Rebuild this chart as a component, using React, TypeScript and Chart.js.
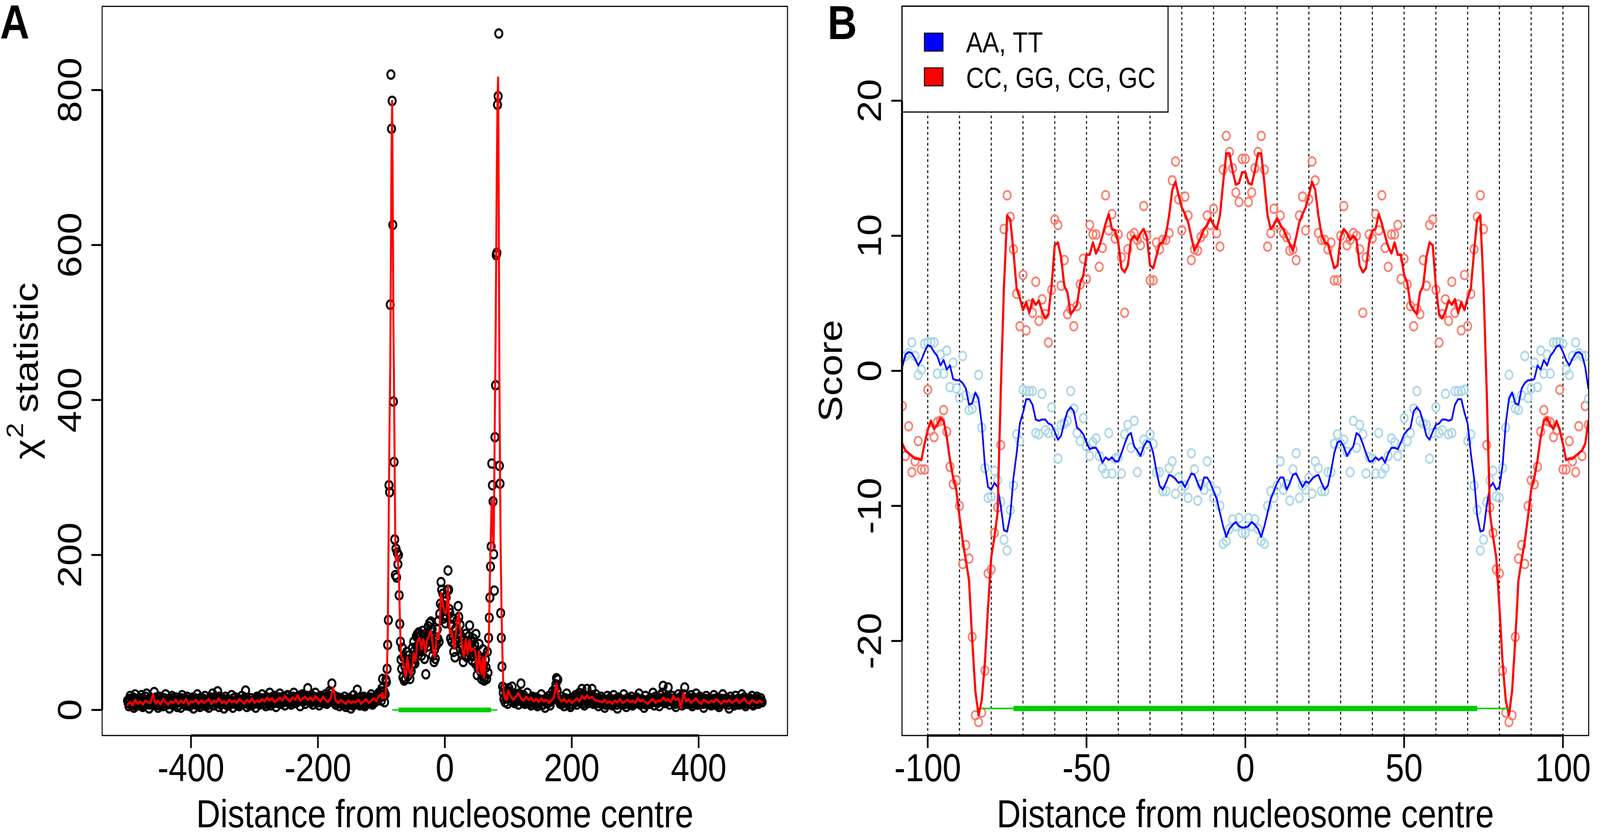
import React, { useEffect, useRef } from "react";
import { Chart, registerables } from "chart.js";

Chart.register(...registerables);

const FONT = '"Liberation Sans", Arial, Helvetica, sans-serif';
const DESIGN_W = 4793;
const DESIGN_H = 2130;

// ---------------- Panel A : chi-square statistic ----------------
const aXRange = [-540, 540];
const aYRange = [-33, 908];
const aXTicks = [-400, -200, 0, 200, 400];
const aYTicks = [0, 200, 400, 600, 800];

// observed statistic, x = -500 .. -102 (step 2)
const aPtsLeft = [
  12, 5, 18, 8, 14, 3, 20, 10, 6, 15,
  9, 19, 4, 13, 7, 21, 11, 2, 16, 8,
  14, 23, 6, 10, 3, 17, 9, 12, 5, 15,
  20, 7, 11, 2, 13, 18, 6, 9, 16, 4,
  10, 14, 3, 19, 8, 12, 6, 17, 11, 5,
  13, 9, 2, 15, 7, 20, 10, 4, 16, 8,
  11, 18, 5, 12, 3, 14, 9, 21, 6, 10,
  15, 24, 4, 13, 8, 11, 2, 17, 9, 14,
  6, 12, 19, 3, 10, 16, 7, 13, 5, 11,
  18, 8, 14, 25, 4, 12, 9, 15, 6, 11,
  13, 3, 17, 10, 7, 14, 20, 8, 12, 5,
  16, 11, 22, 6, 13, 9, 18, 4, 15, 10,
  21, 8, 14, 17, 6, 12, 19, 10, 15, 7,
  13, 22, 9, 16, 11, 18, 5, 14, 20, 12,
  8, 17, 28, 13, 10, 19, 7, 15, 22, 11,
  14, 6, 18, 12, 9, 16, 20, 8, 13, 24,
  16, 34, 10, 18, 7, 12, 16, 5, 11, 14,
  9, 17, 4, 13, 8, 15, 2, 11, 19, 7,
  12, 26, 10, 6, 14, 9, 17, 5, 13, 8,
  15, 11, 20, 7, 14, 10, 18, 13, 22, 16,
];
// observed statistic, x = -499 .. -101 (step 2)
const aPtsLeftOdd = [
  9, 14, 7, 11, 16, 6, 12, 9, 13, 8,
  15, 10, 6, 12, 17, 9, 13, 7, 11, 14,
  8, 12, 16, 9, 13, 6, 11, 15, 10, 7,
  12, 9, 14, 8, 11, 15, 7, 13, 10, 12,
  6, 11, 15, 9, 12, 7, 14, 10, 8, 13,
  11, 16, 8, 10, 13, 6, 12, 15, 9, 11,
  14, 7, 10, 13, 8, 16, 11, 6, 12, 9,
  10, 13, 17, 7, 11, 14, 9, 12, 6, 10,
  13, 9, 11, 15, 8, 12, 10, 14, 7, 11,
  9, 12, 16, 10, 13, 7, 11, 15, 12, 8,
  14, 10, 12, 16, 9, 13, 11, 15, 8, 12,
  11, 15, 9, 13, 17, 10, 12, 14, 9, 16,
  12, 16, 10, 14, 11, 18, 13, 9, 15, 12,
  17, 11, 14, 10, 16, 12, 19, 13, 11, 15,
  13, 18, 12, 15, 10, 14, 17, 11, 16, 13,
  10, 15, 12, 17, 11, 9, 14, 12, 16, 18,
  22, 13, 15, 9, 12, 14, 10, 13, 8, 12,
  11, 7, 13, 10, 15, 9, 12, 6, 11, 14,
  10, 13, 8, 12, 9, 15, 11, 7, 13, 10,
  12, 16, 9, 14, 11, 17, 13, 15, 19, 24,
];
// observed statistic, x = -100 .. 100 (step 1)
const aPtsCentre = [
  12, 28, 40, 18, 24, 10, 20, 39, 36, 53,
  84, 116, 290, 281, 523, 820, 750, 786, 626, 398,
  320, 220, 174, 208, 171, 203, 188, 200, 148, 111,
  88, 65, 53, 80, 42, 68, 38, 56, 40, 50,
  75, 62, 44, 70, 52, 40, 64, 50, 58, 80,
  60, 88, 76, 60, 72, 95, 82, 98, 75, 100,
  88, 80, 96, 70, 90, 102, 78, 95, 66, 85,
  46, 92, 100, 82, 108, 90, 112, 96, 114, 88,
  104, 70, 85, 62, 78, 66, 90, 84, 104, 92,
  115, 88, 124, 137, 165, 155, 134, 150, 118, 140,
  128,
  112, 145, 120, 155, 180, 155, 130, 125, 92, 110,
  88, 118, 95, 75, 85, 68, 105, 90, 115, 98,
  134, 120, 100, 110, 85, 95, 72, 80, 62, 75,
  90, 70, 98, 80, 68, 88, 76, 95, 109, 82,
  70, 88, 64, 80, 92, 70, 84, 60, 98, 72,
  45, 55, 70, 85, 62, 50, 66, 40, 55, 78,
  58, 38, 42, 65, 55, 40, 75, 48, 93, 119,
  145, 185, 211, 318, 290, 269, 201, 154, 352, 419,
  587, 590, 781, 792, 873, 315, 292, 125, 93, 56,
  30, 22, 14, 28, 10, 20, 15, 24, 8, 18,
];
// observed statistic, x = 101 .. 499 (step 2)
const aPtsRightOdd = [
  28, 19, 22, 14, 17, 11, 15, 12, 21, 16,
  13, 10, 15, 9, 12, 14, 8, 13, 11, 15,
  10, 12, 8, 14, 9, 13, 11, 7, 12, 10,
  14, 9, 13, 11, 15, 18, 22, 33, 25, 12,
  10, 13, 8, 12, 15, 9, 11, 14, 7, 13,
  12, 15, 10, 13, 17, 11, 14, 19, 12, 9,
  14, 18, 11, 16, 13, 19, 10, 14, 12, 15,
  9, 12, 14, 8, 11, 13, 7, 12, 10, 13,
  11, 8, 13, 10, 12, 7, 11, 14, 9, 12,
  13, 10, 8, 12, 9, 14, 11, 8, 13, 10,
  12, 9, 14, 11, 8, 13, 10, 12, 7, 11,
  10, 13, 9, 15, 11, 12, 14, 9, 12, 13,
  15, 22, 12, 14, 10, 18, 12, 13, 11, 14,
  12, 8, 11, 14, 10, 13, 9, 12, 20, 10,
  11, 13, 9, 14, 8, 12, 10, 15, 9, 12,
  13, 10, 12, 8, 11, 14, 9, 12, 11, 8,
  12, 14, 9, 11, 13, 7, 12, 10, 14, 11,
  9, 12, 10, 7, 13, 11, 12, 8, 13, 10,
  12, 9, 11, 14, 10, 13, 8, 11, 10, 12,
  10, 13, 8, 12, 11, 14, 9, 11, 12, 10,
];
// observed statistic, x = 102 .. 500 (step 2)
const aPtsRight = [
  24, 12, 30, 16, 9, 20, 14, 7, 18, 34,
  11, 19, 8, 15, 22, 10, 13, 6, 17, 12,
  9, 16, 5, 14, 11, 20, 7, 13, 3, 15,
  10, 18, 6, 12, 24, 20, 28, 41, 39, 14,
  8, 17, 11, 5, 15, 21, 9, 13, 4, 12,
  16, 10, 19, 7, 14, 22, 11, 27, 13, 6,
  18, 27, 9, 15, 12, 27, 8, 16, 20, 10,
  5, 13, 17, 9, 14, 3, 11, 18, 8, 15,
  12, 6, 19, 10, 14, 2, 16, 9, 13, 7,
  20, 11, 4, 15, 8, 13, 17, 6, 12, 9,
  16, 10, 21, 7, 14, 11, 3, 18, 9, 13,
  8, 15, 12, 22, 6, 17, 10, 14, 5, 19,
  11, 31, 9, 16, 13, 29, 7, 12, 18, 10,
  15, 4, 13, 20, 9, 17, 6, 14, 29, 11,
  8, 16, 12, 19, 5, 14, 10, 21, 7, 13,
  17, 9, 15, 3, 12, 18, 8, 14, 10, 6,
  13, 19, 7, 11, 16, 4, 14, 9, 20, 12,
  8, 15, 11, 2, 17, 10, 13, 6, 18, 9,
  14, 7, 12, 20, 10, 16, 5, 13, 9, 15,
  11, 18, 6, 14, 10, 17, 8, 12, 15, 10,
];
// smoothed curve, x = -500 .. -104 (step 4)
const aLineLeft = [
  7, 10, 6, 13, 8, 11, 7, 12, 10, 9,
  20, 8, 12, 7, 14, 10, 7, 11, 9, 13,
  8, 12, 9, 14, 7, 11, 10, 13, 8, 12,
  9, 11, 14, 8, 12, 10, 15, 9, 11, 8,
  13, 10, 12, 9, 14, 11, 8, 13, 10, 15,
  9, 12, 10, 14, 11, 16, 12, 15, 10, 13,
  16, 12, 18, 14, 11, 16, 13, 19, 12, 15,
  17, 13, 16, 12, 18, 14, 11, 17, 13, 10,
  15, 29, 12, 9, 13, 10, 8, 12, 9, 11,
  10, 13, 8, 11, 14, 9, 12, 15, 11, 18,
];
// smoothed curve, x = -100 .. 100 (step 1)
const aLineCentre = [
  20, 16, 22, 15, 17, 16, 16, 22, 36, 60,
  95, 180, 290, 380, 440, 580, 720, 786, 650, 500,
  410, 300, 220, 192, 197, 200, 198, 180, 160, 125,
  95, 70, 68, 66, 63, 58, 52, 47, 42, 45,
  58, 68, 62, 55, 50, 48, 47, 45, 50, 58,
  66, 73, 68, 64, 63, 72, 84, 88, 90, 92,
  93, 90, 85, 79, 84, 89, 91, 88, 80, 74,
  78, 85, 90, 93, 93, 96, 99, 101, 102, 98,
  90, 82, 75, 70, 68, 72, 82, 92, 98, 99,
  96, 93, 110, 135, 151, 146, 141, 137, 132, 128,
  125,
  125, 125, 135, 150, 160, 140, 115, 99, 100, 102,
  100, 95, 88, 82, 79, 85, 95, 105, 112, 118,
  122, 125, 115, 105, 98, 93, 85, 77, 71, 69,
  76, 84, 91, 85, 78, 72, 80, 88, 90, 84,
  76, 77, 78, 79, 79, 78, 77, 76, 68, 58,
  48, 50, 64, 76, 68, 58, 50, 46, 58, 68,
  60, 42, 52, 64, 72, 72, 73, 73, 85, 120,
  170, 208, 245, 272, 250, 220, 208, 300, 400, 480,
  590, 700, 790, 816, 650, 430, 300, 210, 150, 100,
  65, 36, 22, 16, 18, 14, 16, 13, 20, 25,
];
// smoothed curve, x = 104 .. 500 (step 4)
const aLineRight = [
  18, 13, 17, 22, 15, 12, 17, 13, 16, 11,
  14, 10, 15, 11, 13, 9, 12, 16, 34, 15,
  11, 14, 10, 13, 9, 12, 15, 11, 18, 14,
  19, 15, 17, 13, 12, 11, 10, 13, 9, 11,
  8, 12, 10, 14, 9, 11, 13, 10, 12, 9,
  15, 11, 13, 10, 8, 12, 14, 9, 12, 11,
  16, 12, 14, 10, 18, 13, 15, 3, 22, 11,
  14, 9, 12, 15, 10, 8, 13, 11, 9, 12,
  10, 14, 11, 8, 12, 10, 13, 9, 11, 14,
  9, 12, 15, 10, 8, 13, 11, 9, 12, 10,
];

// nucleosome core / extended region bars
const coreRange = [-73, 73];
const linkerRange = [-83, 83];
const aBarY = 0;
const bBarY = -25;

// ---------------- Panel B : dinucleotide scores ----------------
const bXRange = [-108.1, 108.1];
const bYRange = [-27, 27];
const bXTicks = [-100, -50, 0, 50, 100];
const bYTicks = [-20, -10, 0, 10, 20];
const bGrid = [-100, -90, -80, -70, -60, -50, -40, -30, -20, -10, 0, 10, 20, 30, 40, 50, 60, 70, 80, 90, 100];
const bXStart = -108; // positions -108 .. 108, step 1
const legendLabels = ["AA, TT", "CC, GG, CG, GC"];

const bAALine = [
  0.3, 1.2, 1.4, 1.3, 0.9, 0.4, 0.8, 1.4, 1.9, 1.8,
  1.4, 1.1, 0.4, 0.8, 0.1, 0.4, -0.6, -0.7, -0.7, -0.9,
  -1.3, -2.5, -2.4, -1.6, -2.1, -3.9, -7.0, -8.6, -8.8, -8.3,
  -8.6, -10.0, -11.8, -11.9, -10.7, -7.9, -6.1, -3.9, -3.1, -2.1,
  -2.1, -2.5, -3.6, -3.7, -3.6, -3.6, -3.9, -4.0, -4.5, -5.1,
  -4.8, -3.8, -3.0, -2.7, -3.0, -4.2, -4.4, -4.7, -5.3, -5.8,
  -5.7, -5.7, -6.1, -6.8, -6.4, -6.6, -6.4, -6.7, -6.7, -6.1,
  -5.4, -4.8, -4.6, -5.6, -5.9, -6.3, -5.6, -5.2, -5.3, -6.1,
  -7.4, -8.5, -8.8, -8.3, -7.7, -7.8, -8.0, -8.3, -8.2, -8.6,
  -8.1, -7.6, -7.7, -8.3, -8.8, -7.9, -7.9, -8.3, -8.9, -9.5,
  -10.5, -11.5, -12.3, -11.7, -11.4, -11.2, -11.5, -11.6,
  -11.6,
  -11.5, -11.2, -11.4, -11.7, -12.3, -11.5, -10.5, -9.5, -8.9, -8.3,
  -7.9, -7.9, -8.8, -8.3, -7.7, -7.6, -8.1, -8.6, -8.2, -8.3,
  -8.0, -7.8, -7.7, -8.3, -8.8, -8.5, -7.4, -6.1, -5.3, -5.2,
  -5.6, -6.3, -5.9, -5.6, -4.6, -4.8, -5.4, -6.1, -6.7, -6.7,
  -6.4, -6.6, -6.4, -6.8, -6.1, -5.7, -5.7, -5.8, -5.3, -4.7,
  -4.4, -4.2, -3.0, -2.7, -3.0, -3.8, -4.8, -5.1, -4.5, -4.0,
  -3.9, -3.6, -3.6, -3.7, -3.6, -2.5, -2.1, -2.1, -3.1, -3.9,
  -6.1, -7.9, -10.7, -11.9, -11.8, -10.0, -8.6, -8.3, -8.8, -8.6,
  -7.0, -3.9, -2.1, -1.6, -2.4, -2.5, -1.3, -0.9, -0.7, -0.7,
  -0.6, 0.4, 0.1, 0.8, 0.4, 1.1, 1.4, 1.8, 1.9, 1.4,
  0.8, 0.4, 0.9, 1.3, 1.4, 1.2, 0.3, -1.3,
];
const bCCLine = [
  -5.4, -5.9, -6.1, -6.3, -6.5, -6.5, -6.6, -5.4, -4.4, -3.7,
  -4.3, -4.0, -3.5, -3.7, -4.9, -6.6, -7.9, -8.8, -10.8, -12.6,
  -14.0, -15.5, -19.9, -23.7, -25.5, -24.4, -21.6, -17.5, -13.8, -12.3,
  -10.5, -1.5, 6.2, 11.5, 11.2, 8.8, 6.1, 5.4, 4.5, 5.1,
  4.3, 5.3, 4.9, 5.2, 4.4, 3.9, 4.2, 6.3, 9.3, 9.5,
  8.4, 6.3, 5.8, 4.2, 4.5, 4.9, 6.5, 7.1, 8.6, 8.6,
  9.5, 8.7, 9.2, 10.0, 10.9, 11.6, 10.5, 10.4, 9.5, 7.6,
  7.3, 7.8, 9.7, 10.0, 9.7, 10.2, 10.5, 9.9, 7.8, 7.6,
  8.5, 9.4, 9.5, 10.1, 11.5, 13.4, 14.0, 13.0, 12.1, 11.6,
  11.0, 9.9, 8.9, 9.4, 9.9, 10.5, 10.8, 11.3, 10.8, 10.5,
  11.5, 13.9, 16.1, 16.1, 14.8, 13.8, 13.9, 14.7,
  14.7,
  13.9, 13.8, 14.8, 16.1, 16.1, 13.9, 11.5, 10.5, 10.8, 11.3,
  10.8, 10.5, 9.9, 9.4, 8.9, 9.9, 11.0, 11.6, 12.1, 13.0,
  14.0, 13.4, 11.5, 10.1, 9.5, 9.4, 8.5, 7.6, 7.8, 9.9,
  10.5, 10.2, 9.7, 10.0, 9.7, 7.8, 7.3, 7.6, 9.5, 10.4,
  10.5, 11.6, 10.9, 10.0, 9.2, 8.7, 9.5, 8.6, 8.6, 7.1,
  6.5, 4.9, 4.5, 4.2, 5.8, 6.3, 8.4, 9.5, 9.3, 6.3,
  4.2, 3.9, 4.4, 5.2, 4.9, 5.3, 4.3, 5.1, 4.5, 5.4,
  6.1, 8.8, 11.2, 11.5, 6.2, -1.5, -10.5, -12.3, -13.8, -17.5,
  -21.6, -24.4, -25.5, -23.7, -19.9, -15.5, -14.0, -12.6, -10.8, -8.8,
  -7.9, -6.6, -4.9, -3.7, -3.5, -4.0, -4.3, -3.7, -4.4, -5.4,
  -6.6, -6.5, -6.5, -6.3, -6.1, -5.9, -5.4, -3.8,
];
const bAAPts = [
  1.1, 1.1, 1.3, 2.1, 1.1, -0.3, 0.1, 2.0, 2.1, 2.1,
  2.1, -0.2, 1.2, -0.2, 1.5, -1.2, 0.6, -1.3, -2.0, 1.1,
  -1.8, -2.9, -2.8, -2.0, -0.3, -4.2, -7.2, -9.4, -9.3, -7.4,
  -8.1, -9.7, -12.5, -13.3, -10.3, -8.5, -4.7, -5.2, -1.4, -1.5,
  -1.5, -1.5, -4.6, -4.7, -1.7, -4.4, -4.6, -2.7, -4.6, -6.5,
  -4.0, -3.9, -3.7, -1.5, -2.8, -4.6, -5.2, -3.5, -5.6, -6.3,
  -5.3, -5.0, -6.3, -7.2, -7.6, -4.6, -7.6, -6.5, -6.4, -7.6,
  -4.7, -4.0, -5.7, -3.7, -7.5, -6.0, -5.1, -5.4, -4.7, -5.4,
  -7.5, -7.5, -8.9, -8.9, -7.2, -6.7, -9.1, -7.9, -8.8, -8.5,
  -9.4, -6.1, -7.3, -9.6, -8.4, -8.8, -6.7, -8.5, -9.4, -8.9,
  -10.0, -12.8, -12.6, -11.7, -11.0, -11.5, -10.9, -12.0,
  -12.0,
  -10.9, -11.5, -11.0, -11.7, -12.6, -12.8, -10.0, -8.9, -9.4, -8.5,
  -6.7, -8.8, -8.4, -9.6, -7.3, -6.1, -9.4, -8.5, -8.8, -7.9,
  -9.1, -6.7, -7.2, -8.9, -8.9, -7.5, -7.5, -5.4, -4.7, -5.4,
  -5.1, -6.0, -7.5, -3.7, -5.7, -4.0, -4.7, -7.6, -6.4, -6.5,
  -7.6, -4.6, -7.6, -7.2, -6.3, -5.0, -5.3, -6.3, -5.6, -3.5,
  -5.2, -4.6, -2.8, -1.5, -3.7, -3.9, -4.0, -6.5, -4.6, -2.7,
  -4.6, -4.4, -1.7, -4.7, -4.6, -1.5, -1.5, -1.5, -1.4, -5.2,
  -4.7, -8.5, -10.3, -13.3, -12.5, -9.7, -8.1, -7.4, -9.3, -9.4,
  -7.2, -4.2, -0.3, -2.0, -2.8, -2.9, -1.8, 1.1, -2.0, -1.3,
  0.6, -1.2, 1.5, -0.2, 1.2, -0.2, 2.1, 2.1, 2.1, 2.0,
  0.1, -0.3, 1.1, 2.1, 1.3, 1.1, 1.1, -2.1,
];
const bCCPts = [
  -2.6, -6.3, -4.1, -7.5, -6.7, -5.2, -7.3, -7.3, -1.4, -4.4,
  -4.9, -3.8, -3.7, -2.9, -4.5, -7.1, -8.4, -8.1, -10.0, -14.3,
  -12.9, -13.9, -19.7, -25.5, -26.0, -25.3, -22.2, -15.0, -14.7, -12.0,
  -10.1, -5.5, 10.5, 13.0, 11.4, 9.0, 5.7, 3.3, 7.1, 3.0,
  4.9, 4.3, 6.6, 3.7, 5.3, 4.2, 2.1, 6.0, 11.2, 10.8,
  6.3, 8.2, 4.2, 4.6, 3.3, 4.8, 6.4, 8.3, 6.8, 10.8,
  10.1, 10.1, 7.7, 9.1, 13.0, 10.4, 11.6, 9.8, 10.1, 8.4,
  4.3, 9.0, 10.0, 10.2, 9.7, 9.3, 12.2, 10.0, 6.7, 6.7,
  9.5, 9.0, 9.7, 9.7, 10.2, 14.1, 15.5, 12.7, 10.4, 12.9,
  11.5, 8.2, 9.0, 8.9, 9.9, 10.2, 11.5, 10.8, 12.0, 10.2,
  9.2, 14.9, 17.4, 16.2, 15.0, 13.2, 12.5, 15.7,
  15.7,
  12.5, 13.2, 15.0, 16.2, 17.4, 14.9, 9.2, 10.2, 12.0, 10.8,
  11.5, 10.2, 9.9, 8.9, 9.0, 8.2, 11.5, 12.9, 10.4, 12.7,
  15.5, 14.1, 10.2, 9.7, 9.7, 9.0, 9.5, 6.7, 6.7, 10.0,
  12.2, 9.3, 9.7, 10.2, 10.0, 9.0, 4.3, 8.4, 10.1, 9.8,
  11.6, 10.4, 13.0, 9.1, 7.7, 10.1, 10.1, 10.8, 6.8, 8.3,
  6.4, 4.8, 3.3, 4.6, 4.2, 8.2, 6.3, 10.8, 11.2, 6.0,
  2.1, 4.2, 5.3, 3.7, 6.6, 4.3, 4.9, 3.0, 7.1, 3.3,
  5.7, 9.0, 11.4, 13.0, 10.5, -5.5, -10.1, -12.0, -14.7, -15.0,
  -22.2, -25.3, -26.0, -25.5, -19.7, -13.9, -12.9, -14.3, -10.0, -8.1,
  -8.4, -7.1, -4.5, -2.9, -3.7, -3.8, -4.9, -4.4, -1.4, -7.3,
  -7.3, -5.2, -6.7, -7.5, -4.1, -6.3, -2.6, -4.0,
];

// ---------------- helpers ----------------
const seq = (vals: number[], start: number, step: number) =>
  vals.map((y, i) => ({ x: start + i * step, y }));

const aPoints = [
  ...seq(aPtsLeft, -500, 2),
  ...seq(aPtsLeftOdd, -499, 2),
  ...seq(aPtsCentre, -100, 1),
  ...seq(aPtsRightOdd, 101, 2),
  ...seq(aPtsRight, 102, 2),
];
const aCurve = [
  ...seq(aLineLeft, -500, 4),
  ...seq(aLineCentre, -100, 1),
  ...seq(aLineRight, 104, 4),
];

const GREEN = "#00CD00";

function barSets(yv: number, thick: number, thin: number) {
  return [
    {
      label: "core",
      data: [{ x: coreRange[0], y: yv }, { x: coreRange[1], y: yv }],
      showLine: true,
      borderColor: GREEN,
      borderWidth: thick,
      borderCapStyle: "butt",
      pointRadius: 0,
      order: 0,
    },
    {
      label: "extended",
      data: [{ x: linkerRange[0], y: yv }, { x: linkerRange[1], y: yv }],
      showLine: true,
      borderColor: GREEN,
      borderWidth: thin,
      borderCapStyle: "butt",
      pointRadius: 0,
      order: 1,
    },
  ];
}

type AxesCfg = {
  id: string;
  xTicks: number[];
  yTicks: number[];
  xTitle: string;
  yTitle: string;
  yTitleOffset: number;
  letter: string;
  letterX: number;
  letterY: number;
  grid?: number[];
  legend?: { labels: string[]; colors: string[] };
};

function rAxes(cfg: AxesCfg) {
  return {
    id: cfg.id,
    beforeDatasetsDraw(chart: any) {
      if (!cfg.grid) return;
      const { ctx, chartArea, scales } = chart;
      ctx.save();
      ctx.strokeStyle = "#000";
      ctx.lineWidth = 3;
      ctx.setLineDash([7, 7]);
      for (const v of cfg.grid) {
        const px = scales.x.getPixelForValue(v);
        ctx.beginPath();
        ctx.moveTo(px, chartArea.top);
        ctx.lineTo(px, chartArea.bottom);
        ctx.stroke();
      }
      ctx.restore();
    },
    afterDatasetsDraw(chart: any) {
      if (!cfg.legend) return;
      const { ctx, chartArea } = chart;
      const L = chartArea.left;
      const T = chartArea.top;
      ctx.save();
      ctx.fillStyle = "#fff";
      ctx.fillRect(L, T, 797, 271);
      ctx.strokeStyle = "#000";
      ctx.lineWidth = 3;
      ctx.strokeRect(L, T, 797, 271);
      ctx.font = `74px ${FONT}`;
      ctx.textAlign = "left";
      ctx.textBaseline = "alphabetic";
      cfg.legend.labels.forEach((lab, i) => {
        const by = T + 69 + i * 89;
        ctx.fillStyle = cfg.legend!.colors[i];
        ctx.fillRect(L + 67, by, 56, 46);
        ctx.lineWidth = 2.5;
        ctx.strokeStyle = "#000";
        ctx.strokeRect(L + 67, by, 56, 46);
        ctx.fillStyle = "#000";
        ctx.fillText(lab, L + 192, T + 118 + i * 91);
      });
      ctx.restore();
    },
    afterDraw(chart: any) {
      const { ctx, chartArea, scales } = chart;
      const { left, right, top, bottom } = chartArea;
      const xs = scales.x;
      const ys = scales.y;
      ctx.save();
      ctx.strokeStyle = "#000";
      ctx.fillStyle = "#000";
      ctx.setLineDash([]);
      ctx.lineWidth = 3;
      ctx.strokeRect(left, top, right - left, bottom - top);
      ctx.lineCap = "butt";
      ctx.lineWidth = 6;
      ctx.beginPath();
      ctx.moveTo(xs.getPixelForValue(cfg.xTicks[0]), bottom);
      ctx.lineTo(xs.getPixelForValue(cfg.xTicks[cfg.xTicks.length - 1]), bottom);
      ctx.stroke();
      ctx.lineWidth = 5;
      ctx.font = `100px ${FONT}`;
      ctx.textAlign = "center";
      ctx.textBaseline = "alphabetic";
      for (const t of cfg.xTicks) {
        const px = xs.getPixelForValue(t);
        ctx.beginPath();
        ctx.moveTo(px, bottom);
        ctx.lineTo(px, bottom + 32);
        ctx.stroke();
        ctx.fillText(String(t), px, bottom + 117);
      }
      ctx.lineWidth = 6;
      ctx.beginPath();
      ctx.moveTo(left, ys.getPixelForValue(cfg.yTicks[0]));
      ctx.lineTo(left, ys.getPixelForValue(cfg.yTicks[cfg.yTicks.length - 1]));
      ctx.stroke();
      ctx.lineWidth = 5;
      for (const t of cfg.yTicks) {
        const py = ys.getPixelForValue(t);
        ctx.beginPath();
        ctx.moveTo(left, py);
        ctx.lineTo(left - 32, py);
        ctx.stroke();
        ctx.save();
        ctx.translate(left - 63, py);
        ctx.rotate(-Math.PI / 2);
        ctx.fillText(String(t), 0, 0);
        ctx.restore();
      }
      ctx.font = `100px ${FONT}`;
      ctx.fillText(cfg.xTitle, (left + right) / 2, bottom + 235);
      const cy = (top + bottom) / 2;
      ctx.save();
      ctx.translate(left - cfg.yTitleOffset, cy);
      ctx.rotate(-Math.PI / 2);
      if (cfg.yTitle === "chi") {
        ctx.textAlign = "left";
        ctx.font = `100px ${FONT}`;
        const w1 = ctx.measureText("\u03C7").width;
        const w3 = ctx.measureText(" statistic").width;
        ctx.font = `70px ${FONT}`;
        const w2 = ctx.measureText("2").width;
        const s = -(w1 + w2 + w3) / 2;
        ctx.font = `100px ${FONT}`;
        ctx.fillText("\u03C7", s, 0);
        ctx.fillText(" statistic", s + w1 + w2, 0);
        ctx.font = `70px ${FONT}`;
        ctx.fillText("2", s + w1 + 2, -44);
      } else {
        ctx.textAlign = "center";
        ctx.fillText(cfg.yTitle, 0, 0);
      }
      ctx.restore();
      ctx.font = `bold 122px ${FONT}`;
      ctx.textAlign = "left";
      ctx.fillText(cfg.letter, cfg.letterX, cfg.letterY);
      ctx.restore();
    },
  };
}

type PanelProps = { w: number; left: number; kx: number; ky: number; make: () => any };

function Panel({ w, left, kx, ky, make }: PanelProps) {
  const ref = useRef<HTMLCanvasElement>(null);
  useEffect(() => {
    if (!ref.current) return;
    const chart = new Chart(ref.current, make());
    return () => chart.destroy();
  }, []);
  return (
    <canvas
      ref={ref}
      width={w}
      height={DESIGN_H}
      style={{
        position: "absolute",
        left: left * kx,
        top: 0,
        width: w * kx,
        height: DESIGN_H * ky,
        display: "block",
      }}
    />
  );
}

const baseOptions = (padLeft: number, padRight: number, xr: number[], yr: number[]) => ({
  responsive: false,
  maintainAspectRatio: false,
  animation: false,
  devicePixelRatio: 1,
  events: [],
  layout: { padding: { left: padLeft, right: padRight, top: 5, bottom: 247 } },
  scales: {
    x: { type: "linear", min: xr[0], max: xr[1], display: false },
    y: { type: "linear", min: yr[0], max: yr[1], display: false },
  },
  plugins: { legend: { display: false }, tooltip: { enabled: false } },
});

const makeA = () => ({
  type: "scatter",
  data: {
    datasets: [
      ...barSets(aBarY, 12, 3.5),
      {
        label: "smoothed",
        data: aCurve,
        showLine: true,
        borderColor: "#FF0000",
        borderWidth: 6,
        borderJoinStyle: "round",
        borderCapStyle: "round",
        pointRadius: 0,
        order: 2,
      },
      {
        label: "chi2",
        data: aPoints,
        showLine: false,
        pointRadius: 10.8,
        pointBorderWidth: 5.5,
        pointBorderColor: "#000",
        pointBackgroundColor: "rgba(0,0,0,0)",
        order: 3,
      },
    ],
  },
  options: baseOptions(306, 41, aXRange, aYRange),
  plugins: [
    rAxes({
      id: "axesA",
      xTicks: aXTicks,
      yTicks: aYTicks,
      xTitle: "Distance from nucleosome centre",
      yTitle: "chi",
      yTitleOffset: 193,
      letter: "A",
      letterX: 0,
      letterY: 99,
    }),
  ],
});

const makeB = () => ({
  type: "scatter",
  data: {
    datasets: [
      ...barSets(bBarY, 13.5, 4),
      {
        label: legendLabels[1],
        data: seq(bCCLine, bXStart, 1),
        showLine: true,
        borderColor: "#FF0000",
        borderWidth: 6.5,
        borderJoinStyle: "round",
        borderCapStyle: "round",
        pointRadius: 0,
        order: 2,
      },
      {
        label: legendLabels[0],
        data: seq(bAALine, bXStart, 1),
        showLine: true,
        borderColor: "#0000FF",
        borderWidth: 5,
        borderJoinStyle: "round",
        borderCapStyle: "round",
        pointRadius: 0,
        order: 3,
      },
      {
        label: "AA pts",
        data: seq(bAAPts, bXStart, 1),
        showLine: false,
        pointRadius: 11.2,
        pointBorderWidth: 4.6,
        pointBorderColor: "#ADD8E6",
        pointBackgroundColor: "rgba(0,0,0,0)",
        order: 4,
      },
      {
        label: "CC pts",
        data: seq(bCCPts, bXStart, 1),
        showLine: false,
        pointRadius: 11.2,
        pointBorderWidth: 4.6,
        pointBorderColor: "#FA8072",
        pointBackgroundColor: "rgba(0,0,0,0)",
        order: 5,
      },
    ],
  },
  options: baseOptions(302, 34, bXRange, bYRange),
  plugins: [
    rAxes({
      id: "axesB",
      xTicks: bXTicks,
      yTicks: bYTicks,
      xTitle: "Distance from nucleosome centre",
      yTitle: "Score",
      yTitleOffset: 180,
      letter: "B",
      letterX: 79,
      letterY: 100,
      grid: bGrid,
      legend: { labels: legendLabels, colors: ["#0000FF", "#FF0000"] },
    }),
  ],
});

export default function App() {
  const vw = typeof window !== "undefined" ? window.innerWidth : DESIGN_W;
  const vh = typeof window !== "undefined" ? window.innerHeight : DESIGN_H;
  const kx = vw / DESIGN_W;
  const ky = vh / DESIGN_H;
  return (
    <div
      style={{
        position: "absolute",
        left: 0,
        top: 0,
        width: vw,
        height: vh,
        background: "#fff",
        overflow: "hidden",
      }}
    >
      <Panel w={2400} left={0} kx={kx} ky={ky} make={makeA} />
      <Panel w={2393} left={2400} kx={kx} ky={ky} make={makeB} />
    </div>
  );
}
